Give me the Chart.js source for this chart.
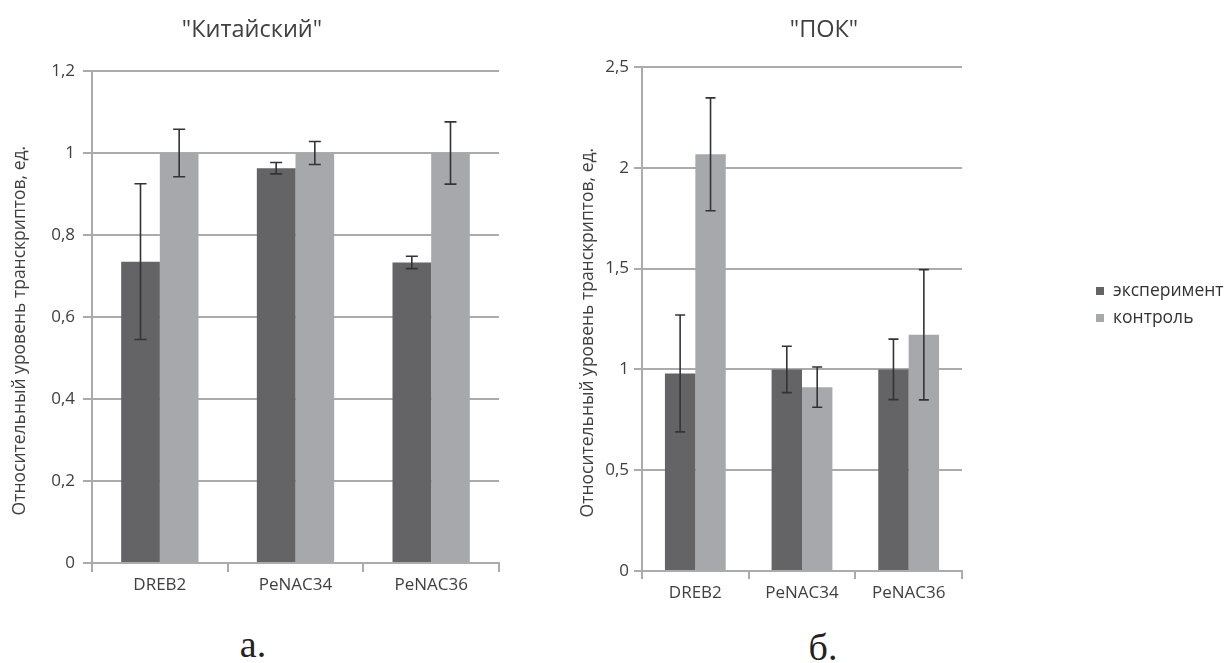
<!DOCTYPE html>
<html>
<head>
<meta charset="utf-8">
<script src="https://cdn.jsdelivr.net/npm/chart.js@4"></script>
<style>
body { margin: 0; background: #fff; width: 1228px; height: 663px; overflow: hidden; position: relative; font-family: "Open Sans", sans-serif; }
.box { position: absolute; }
.ttl { position: absolute; width: 300px; text-align: center; font-size: 23.5px; line-height: 24px; color: #404040; }
.cap { position: absolute; width: 100px; text-align: center; font-family: "Liberation Serif", serif; font-size: 38px; line-height: 38px; color: #222; }
</style>
</head>
<body>
<div class="box" style="left:0;top:0"><canvas id="chartA" width="520" height="600"></canvas></div>
<div class="box" style="left:560px;top:0"><canvas id="chartB" width="668" height="610"></canvas></div>
<div class="ttl" style="left:102px;top:16px">"Китайский"</div>
<div class="ttl" style="left:674px;top:16px">"ПОК"</div>
<div class="cap" style="left:203px;top:625px">а.</div>
<div class="cap" style="left:773px;top:628px">б.</div>
<script>
// data
const genes = ['DREB2', 'PeNAC34', 'PeNAC36'];
const seriesNames = ['эксперимент', 'контроль'];

const kitExp = [0.735, 0.963, 0.733];
const kitExpErr = [0.19, 0.014, 0.015];
const kitCtl = [1, 1, 1];
const kitCtlErr = [0.058, 0.028, 0.076];

const pokExp = [0.98, 1, 1];
const pokExpErr = [0.29, 0.115, 0.15];
const pokCtl = [2.067, 0.912, 1.172];
const pokCtlErr = [0.28, 0.1, 0.323];

const kitTicks = { max: 1.2, step: 0.2 };
const pokTicks = { max: 2.5, step: 0.5 };

// trailing spaces nudge the rotated title a bit lower, as in the original
const axisTitle = 'Относительный уровень транскриптов, ед.      ';
const darkGrey = '#646466';
const lightGrey = '#a7a8ab';
const lineGrey = '#ababab';

Chart.defaults.font.family = '"Open Sans", sans-serif';
Chart.defaults.color = '#404040';

// error bars drawn from each bar's value +/- error through the y scale
const errorBars = {
    id: 'errorBars',
    afterDatasetsDraw(chart, args, opts) {
        const ctx = chart.ctx;
        const y = chart.scales.y;
        ctx.save();
        ctx.strokeStyle = opts.color;
        ctx.lineWidth = opts.width;
        chart.data.datasets.forEach(function(ds, i) {
            chart.getDatasetMeta(i).data.forEach(function(bar, j) {
                const v = ds.data[j], e = ds.errors[j];
                const top = y.getPixelForValue(v + e);
                const bot = y.getPixelForValue(v - e);
                ctx.beginPath();
                ctx.moveTo(bar.x, top); ctx.lineTo(bar.x, bot);
                ctx.moveTo(bar.x - opts.cap, top); ctx.lineTo(bar.x + opts.cap, top);
                ctx.moveTo(bar.x - opts.cap, bot); ctx.lineTo(bar.x + opts.cap, bot);
                ctx.stroke();
            });
        });
        ctx.restore();
    }
};

// legend sitting far to the right of the plot, like in the original
const sideLegend = {
    id: 'sideLegend',
    afterDraw(chart, args, opts) {
        if (!opts.show) return;
        const ctx = chart.ctx;
        ctx.save();
        ctx.font = opts.font;
        ctx.textBaseline = 'middle';
        chart.data.datasets.forEach(function(ds, i) {
            const y = opts.y + i * opts.step;
            ctx.fillStyle = ds.backgroundColor;
            ctx.fillRect(opts.x, y - 4, 8, 8);
            ctx.fillStyle = '#333';
            ctx.fillText(ds.label, opts.x + 17, y);
        });
        ctx.restore();
    }
};

function makeChart(id, exp, expErr, ctl, ctlErr, t, g) {
    const ctx = document.getElementById(id).getContext('2d');
    return new Chart(ctx, {
        type: 'bar',
        data: {
            labels: genes,
            datasets: [
                { label: seriesNames[0], data: exp, errors: expErr, backgroundColor: darkGrey },
                { label: seriesNames[1], data: ctl, errors: ctlErr, backgroundColor: lightGrey }
            ]
        },
        options: {
            responsive: false,
            animation: false,
            devicePixelRatio: 1,
            categoryPercentage: 0.57,
            barPercentage: 1,
            layout: { padding: { top: g.top, right: g.right, left: 0, bottom: 0 } },
            plugins: {
                legend: { display: false },
                tooltip: { enabled: false },
                errorBars: { color: '#333', width: 1.6, cap: g.cap },
                sideLegend: { show: g.legend, x: 536, y: 291, step: 27, font: '17.5px "Open Sans"' }
            },
            scales: {
                x: {
                    grid: { drawOnChartArea: false, drawTicks: true, tickLength: g.tick, color: lineGrey, lineWidth: 2, offset: true },
                    border: { display: true, color: lineGrey, width: 2 },
                    ticks: { padding: g.xPad, font: { size: 17 } },
                    afterFit: function(s) { s.height = g.xH; }
                },
                y: {
                    min: 0,
                    max: t.max,
                    ticks: {
                        stepSize: t.step,
                        padding: g.yPad,
                        font: { size: 17 },
                        callback: function(v) { return String(+v.toFixed(1)).replace('.', ','); }
                    },
                    grid: { color: lineGrey, lineWidth: 2, tickLength: g.tick },
                    border: { display: true, color: lineGrey, width: 2 },
                    title: { display: true, text: axisTitle, font: { size: 17.5 }, color: '#404040', padding: g.titlePad },
                    afterFit: function(s) { s.width = g.yW; }
                }
            }
        },
        plugins: [errorBars, sideLegend]
    });
}

makeChart('chartA', kitExp, kitExpErr, kitCtl, kitCtlErr, kitTicks,
    { top: 71, right: 21, yW: 92, xH: 37, tick: 9, yPad: 8, xPad: 3, cap: 6, titlePad: 10, legend: false });
makeChart('chartB', pokExp, pokExpErr, pokCtl, pokCtlErr, pokTicks,
    { top: 67, right: 266, yW: 82, xH: 39, tick: 8, yPad: 5, xPad: 4, cap: 5, titlePad: 18, legend: true });
</script>
</body>
</html>
